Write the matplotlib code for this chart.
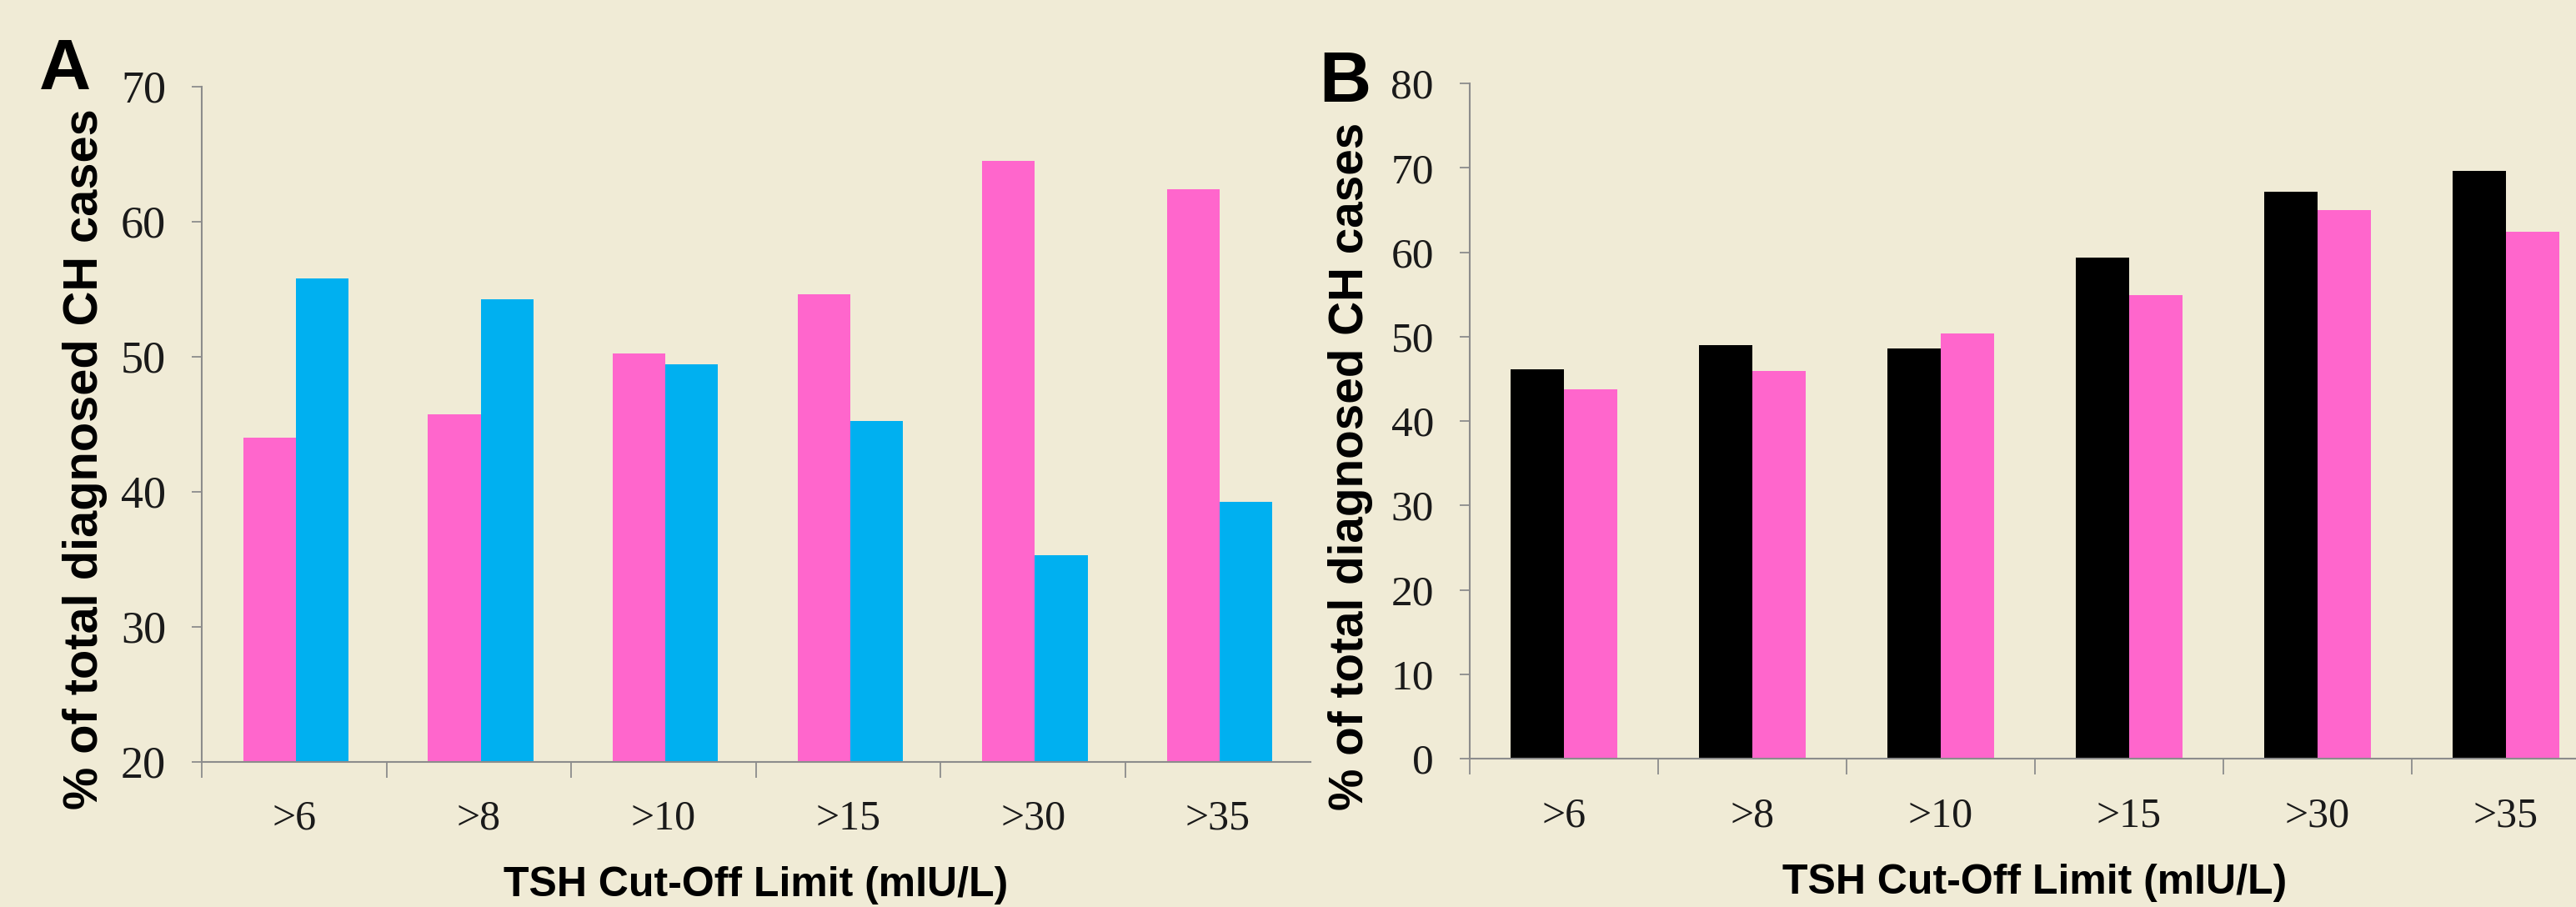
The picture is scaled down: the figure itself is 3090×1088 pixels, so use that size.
import matplotlib
matplotlib.use("Agg")
import matplotlib.pyplot as plt
import numpy as np

# ---------------- data ----------------
categories = [">6", ">8", ">10", ">15", ">30", ">35"]
a_pink = [44.0, 45.7, 50.2, 54.6, 64.5, 62.4]
a_blue = [55.8, 54.2, 49.4, 45.2, 35.3, 39.2]
b_black = [46.1, 49.0, 48.6, 59.4, 67.2, 69.6]
b_pink = [43.8, 45.9, 50.4, 54.9, 65.0, 62.4]
a_yticks = [20, 30, 40, 50, 60, 70]
b_yticks = [0, 10, 20, 30, 40, 50, 60, 70, 80]
xlabel_text = "TSH Cut-Off Limit (mIU/L)"
ylabel_text = "% of total diagnosed CH cases"

# ---------------- style ----------------
BG = "#F0EBD6"
PINK = "#FF66CC"
BLUE = "#00B0F0"
BLACK = "#000000"
AXC = "#8C8C8C"
TXT = "#1A1A1A"
SERIF = "Liberation Serif"
SANS = "Liberation Sans"

W, H = 3090, 1088
fig = plt.figure(figsize=(W / 100, H / 100), dpi=100, facecolor=BG)

axA = fig.add_axes([242 / W, 1 - 913.5 / H, 1329.6 / W, 810 / H])
axB = fig.add_axes([1763 / W, 1 - 910 / H, 1356 / W, 810 / H])

x = np.arange(len(categories))
bw = 0.285

axA.bar(x - bw / 2 + 0.01, a_pink, width=bw, color=PINK, linewidth=0, zorder=1)
axA.bar(x + bw / 2 + 0.01, a_blue, width=bw, color=BLUE, linewidth=0, zorder=1)
axB.bar(x - bw / 2, b_black, width=bw, color=BLACK, linewidth=0, zorder=1)
axB.bar(x + bw / 2, b_pink, width=bw, color=PINK, linewidth=0, zorder=1)


def style(ax, yticks, ytick_size, ylab_xy, ylab_size):
    ax.set_facecolor(BG)
    ax.set_xlim(-0.5, len(categories) - 0.5)
    ax.set_ylim(yticks[0], yticks[-1])
    for s in ["top", "right"]:
        ax.spines[s].set_visible(False)
    for s in ["left", "bottom"]:
        ax.spines[s].set_color(AXC)
        ax.spines[s].set_linewidth(1.5)
    ax.set_yticks(yticks)
    ax.set_yticklabels([str(v) for v in yticks])
    ax.tick_params(axis="y", direction="out", length=9, width=1.3, color=AXC,
                   pad=22, labelsize=ytick_size, labelcolor=TXT)
    ax.set_xticks(x)
    ax.set_xticklabels(categories)
    ax.tick_params(axis="x", which="major", length=0, pad=33,
                   labelsize=36, labelcolor=TXT)
    ax.set_xticks(np.arange(-0.5, len(categories) - 1, 1), minor=True)
    ax.tick_params(axis="x", which="minor", direction="out", length=14,
                   width=1.3, color=AXC)
    for lbl in ax.get_xticklabels() + ax.get_yticklabels():
        lbl.set_fontfamily(SERIF)
    ax.set_xlabel(xlabel_text, fontfamily=SANS, fontweight="bold",
                  fontsize=36, color=BLACK)
    ax.xaxis.set_label_coords(0.5, -0.155)
    ax.set_ylabel(ylabel_text, fontfamily=SANS, fontweight="bold",
                  fontsize=ylab_size, color=BLACK, ha="center", va="center")
    ax.yaxis.set_label_coords(*ylab_xy)


style(axA, a_yticks, 39, (-0.1053, 0.4475), 41.6)
style(axB, b_yticks, 37, (-0.1055, 0.4327), 40.8)

fig.text(47 / W, 1 - 107 / H, "A", fontsize=62, fontweight="bold",
         fontfamily=SANS, ha="left", va="baseline", color=BLACK)
fig.text(1582 / W, 1 - 122 / H, "B", fontsize=62, fontweight="bold",
         fontfamily=SANS, ha="left", va="baseline", color=BLACK)

fig.savefig("out.png", dpi=100, facecolor=BG)
